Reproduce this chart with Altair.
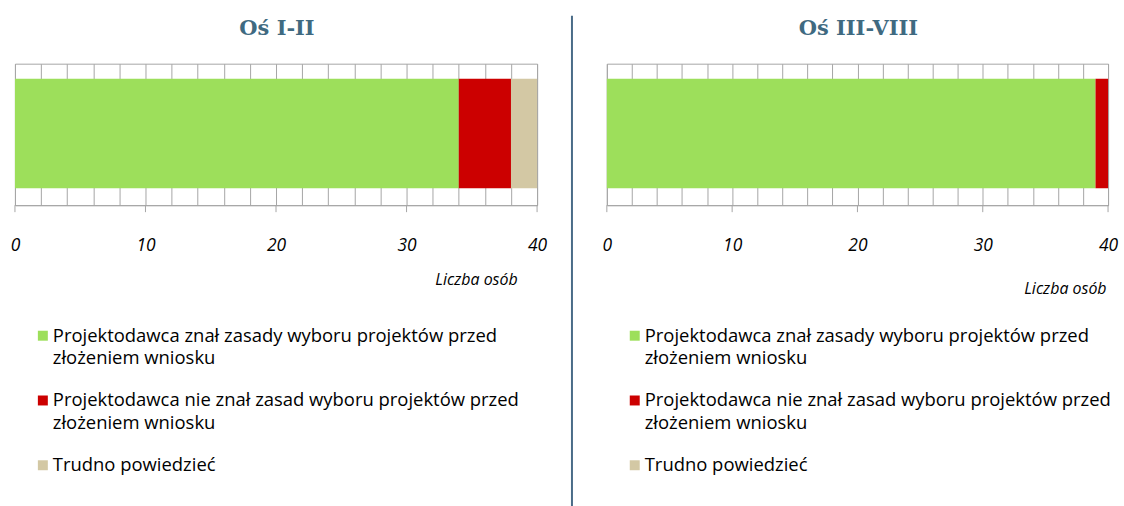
import altair as alt
import pandas as pd

CATEGORIES = [
    "Projektodawca znał zasady wyboru projektów przed złożeniem wniosku",
    "Projektodawca nie znał zasad wyboru projektów przed złożeniem wniosku",
    "Trudno powiedzieć",
]
LEGEND_LABELS = [
    "Projektodawca znał zasady wyboru projektów przed\nzłożeniem wniosku",
    "Projektodawca nie znał zasad wyboru projektów przed\nzłożeniem wniosku",
    "Trudno powiedzieć",
]
PANEL_TITLES = ["Oś I-II", "Oś III-VIII"]
VALUES_I_II = [34, 4, 2]
VALUES_III_VIII = [39, 1, 0]
COLORS = ["#9ddf5b", "#cc0000", "#d3c8a4"]
X_TICKS = [0, 10, 20, 30, 40]
GRID_TICKS = [0, 2, 4, 6, 8, 10, 12, 14, 16, 18, 20, 22, 24, 26, 28, 30, 32, 34, 36, 38, 40]
X_MAX = 40
AXIS_TITLE = "Liczba osób"

FONT = "Open Sans"
GRID = "#a6a6a6"
PLOT_H = 142


def panel(title, values, width, title_x, title_dy, divider_x, divider_color, divider_y2):
    df = pd.DataFrame({"kat": CATEGORIES, "val": values, "order": [0, 1, 2], "row": ["a"] * 3})
    df = df[df["val"] > 0]
    leg = pd.DataFrame({"kat": CATEGORIES, "label": LEGEND_LABELS, "idx": [0, 1, 2]})
    ticks = pd.DataFrame({"t": X_TICKS})
    color = alt.Color("kat:N", scale=alt.Scale(domain=CATEGORIES, range=COLORS), legend=None)
    xscale = alt.Scale(domain=[0, X_MAX], nice=False, zero=True)
    xaxis = alt.Axis(
        values=GRID_TICKS,
        grid=True,
        gridColor=GRID,
        domainColor=GRID,
        ticks=False,
        tickSize=0,
        labelExpr=f"indexof({X_TICKS}, datum.value) >= 0 ? datum.label : ''",
        labelOverlap=False,
        labelPadding=31,
        labelFlush=False,
        labelFont=FONT,
        labelFontStyle="italic",
        labelFontSize=17.5,
        labelColor="#000000",
        title=AXIS_TITLE,
        titleFont=FONT,
        titleFontStyle="italic",
        titleFontWeight="normal",
        titleFontSize=16,
        titleColor="#000000",
        titleX=title_x,
        titleY=title_dy,
        titleAlign="right",
        titleBaseline="middle",
    )

    bars = alt.Chart(df).mark_bar().encode(
        x=alt.X("val:Q", stack="zero", scale=xscale, axis=xaxis),
        y=alt.Y(
            "row:N",
            scale=alt.Scale(paddingInner=0, paddingOuter=0.1455, align=0.47),
            axis=None,
        ),
        color=color,
        order=alt.Order("order:Q"),
    )

    tick_rules = alt.Chart(ticks).mark_rule(color=GRID, strokeWidth=1).encode(
        x=alt.X("t:Q", scale=xscale, axis=xaxis),
        y=alt.value(PLOT_H),
        y2=alt.value(PLOT_H + 7),
    )

    title_text = alt.Chart(pd.DataFrame({"t": [title]})).mark_text(
        font="DejaVu Serif", fontWeight="bold", fontSize=21, color="#3f6a81", baseline="middle"
    ).encode(text="t:N", x=alt.value(width / 2 + 1), y=alt.value(-35))

    leg_y = alt.Y("idx:Q", scale=alt.Scale(domain=[0, 2], range=[264, 394]), axis=None)
    leg_text = alt.Chart(leg).mark_text(
        align="left", baseline="top", lineBreak="\n", lineHeight=22.5,
        font=FONT, fontSize=18.5, color="#000000",
    ).encode(text="label:N", x=alt.value(38), y=leg_y)
    leg_sq = alt.Chart(leg).mark_square(size=100, opacity=1, yOffset=9).encode(
        x=alt.value(28), y=leg_y, color=color
    )

    divider = alt.Chart(pd.DataFrame({"d": [0]})).mark_rule(
        color=divider_color, strokeWidth=2
    ).encode(x=alt.value(divider_x), y=alt.value(-48), y2=alt.value(divider_y2))

    return alt.layer(bars, tick_rules, title_text, leg_sq, leg_text, divider).resolve_scale(
        y="independent"
    ).properties(width=width, height=PLOT_H)


left = panel(PANEL_TITLES[0], VALUES_I_II, 524, 504, 75, 0, "#ffffff", -44)
right = panel(PANEL_TITLES[1], VALUES_III_VIII, 503, 501, 84, -35, "#4a6c88", 446)

chart = alt.hconcat(left, right, spacing=22).properties(
    padding={"left": 9, "top": 13, "right": 5, "bottom": 0},
    background="white",
).configure_view(stroke=GRID, strokeWidth=1)

chart.save("out.html", embed_options={"renderer": "svg", "actions": False})
